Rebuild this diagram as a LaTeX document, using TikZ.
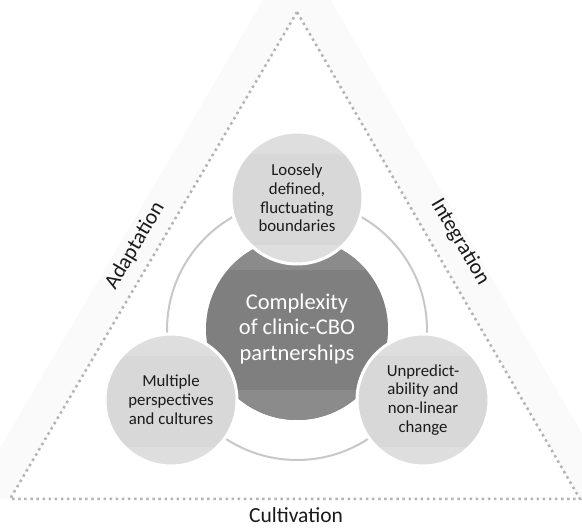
\documentclass[tikz,border=0pt]{standalone}
\usepackage{fontspec}
\setmainfont{Carlito}
\definecolor{dotgray}{HTML}{B4B4B4}
\definecolor{ringgray}{HTML}{C8C8C8}
\definecolor{darkc}{HTML}{7F7F7F}
\definecolor{darkband}{HTML}{8B8B8B}
\definecolor{lightc}{HTML}{D8D8D8}
\definecolor{lightband}{HTML}{DEDEDE}
\definecolor{halo}{HTML}{FAFAFA}
\definecolor{txt}{HTML}{1A1A1A}
\tikzset{
  dotline/.style={draw=dotgray, line width=2.5pt, dash pattern=on 2.5pt off 3.6pt},
  sidelabel/.style={font=\fontsize{21.5}{24}\selectfont, text=txt, inner sep=0pt},
  core/.style={circle, fill=darkc, minimum size=182pt, inner sep=0pt, align=center,
    text=white, font=\fontsize{22.5}{25.5}\selectfont,
    path picture={
      \fill[darkband] (path picture bounding box.north west) rectangle ([yshift=-32pt]path picture bounding box.north east);
      \fill[darkband] (path picture bounding box.south west) rectangle ([yshift=30pt]path picture bounding box.south east);
    }},
  petal/.style={circle, fill=lightc, draw=white, line width=3pt, minimum size=132pt, inner sep=0pt,
    align=center, text=txt, font=\fontsize{16.8}{18.8}\selectfont,
    path picture={
      \fill[lightband] (path picture bounding box.north west) rectangle ([yshift=-22pt]path picture bounding box.north east);
      \fill[lightband] (path picture bounding box.south west) rectangle ([yshift=19pt]path picture bounding box.south east);
    }},
  ringstyle/.style={circle, draw=ringgray, line width=2pt, minimum size=260pt, inner sep=0pt}
}
\begin{document}
\begin{tikzpicture}[x=1pt,y=-1pt]
\useasboundingbox (0,0) rectangle (582,529);
% faint halo behind the triangle edges
\fill[halo] (297,-58) -- (-30,499) -- (620,499) -- cycle;
\coordinate (A) at (297,12);
\coordinate (B) at (10,499);
\coordinate (C) at (580,499);
\fill[white] (A) -- (B) -- (C) -- cycle;
\fill[white] (-5,499) rectangle (590,540);
\draw[dotline] (A) -- (B) -- (C) -- cycle;

% side labels
\node[sidelabel, rotate=59.5] (adapt) at (135,246) {Adaptation};
\node[sidelabel, rotate=-59.5] (integ) at (460,242) {Integration};
\node[sidelabel] (cultiv) at (296,515) {Cultivation};

% ring
\node[ringstyle] (ring) at (297,330) {};

% central circle
\node[core] (center) at (297,329) {Complexity\\of clinic-CBO\\partnerships};

% petals
\node[petal] (top) at (297,198) {Loosely\\defined,\\fluctuating\\boundaries};
\node[petal] (left) at (171,400) {Multiple\\perspectives\\and cultures};
\node[petal] (right) at (423,400) {Unpredict-\\ability and\\non-linear\\change};
\end{tikzpicture}
\end{document}
